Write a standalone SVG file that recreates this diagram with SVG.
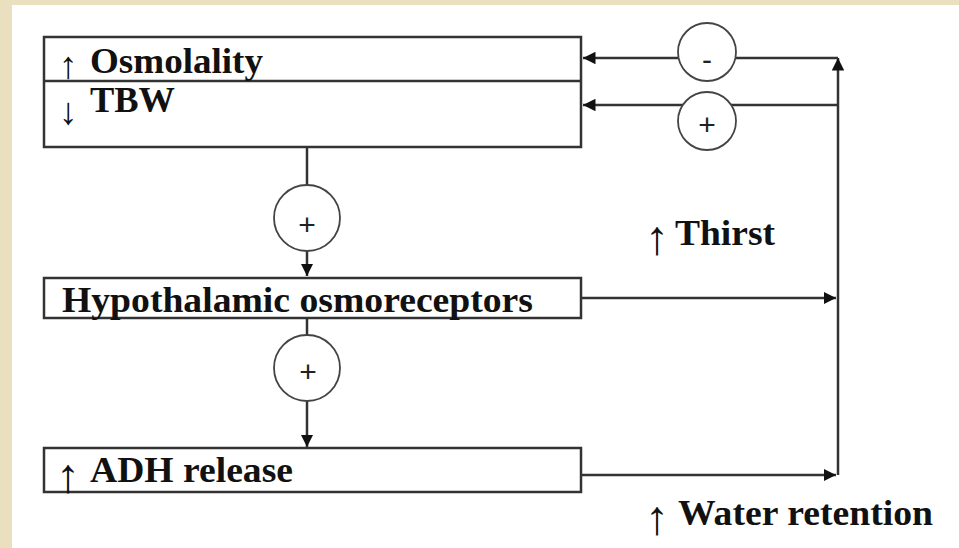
<svg xmlns="http://www.w3.org/2000/svg" width="959" height="548" viewBox="0 0 959 548">
<defs>
<style>
.box{fill:#fff;stroke:#333;stroke-width:2.5}
.ln{fill:none;stroke:#333;stroke-width:2.5}
.cir{fill:#fff;stroke:#444;stroke-width:1.8}
.t{font-family:"Liberation Serif","Times New Roman",serif;font-weight:bold;font-size:35px;fill:#111}
.ar{font-family:"Liberation Serif","Times New Roman",serif;font-size:38px;fill:#111;text-anchor:middle}
.arb{font-size:48px}
.sg{font-family:"Liberation Sans",Arial,sans-serif;font-size:30px;fill:#222;text-anchor:middle}
</style>
<marker id="ah" viewBox="0 0 10 10" refX="10" refY="5" markerWidth="5" markerHeight="5" orient="auto" markerUnits="strokeWidth">
<path d="M0,0 L10,5 L0,10 z" fill="#111"/>
</marker>
</defs>
<rect width="959" height="548" fill="#eadfbf"/>
<rect x="12" y="5" width="947" height="543" fill="#fff"/>
<g id="connectors">
<path class="ln" d="M838,475 L838,58" marker-end="url(#ah)"/>
<path class="ln" d="M838,58 L583,58" marker-end="url(#ah)"/>
<path class="ln" d="M838,105 L583,105" marker-end="url(#ah)"/>
<path class="ln" d="M581,298 L836,298" marker-end="url(#ah)"/>
<path class="ln" d="M581,475 L836,475" marker-end="url(#ah)"/>
<path class="ln" d="M307,147 L307,276" marker-end="url(#ah)"/>
<path class="ln" d="M307,318 L307,447" marker-end="url(#ah)"/>
</g>
<g id="node-osmolality">
<rect class="box" x="44" y="37" width="537" height="110"/>
<line class="ln" x1="44" y1="81" x2="581" y2="81"/>
<text class="ar" x="68" y="78">↑</text>
<text class="t" x="90" y="73" textLength="173" lengthAdjust="spacingAndGlyphs">Osmolality</text>
<text class="ar" x="68" y="124">↓</text>
<text class="t" x="90" y="112" textLength="85" lengthAdjust="spacingAndGlyphs">TBW</text>
</g>
<g id="node-hypothalamic">
<rect class="box" x="44" y="278" width="537" height="40"/>
<text class="t" x="62" y="312" textLength="471" lengthAdjust="spacingAndGlyphs">Hypothalamic osmoreceptors</text>
</g>
<g id="node-adh">
<rect class="box" x="44" y="448" width="537" height="44"/>
<text class="ar arb" x="68" y="492">↑</text>
<text class="t" x="90" y="482" textLength="203" lengthAdjust="spacingAndGlyphs">ADH release</text>
</g>
<g id="sign-minus">
<circle class="cir" cx="707" cy="52" r="29"/>
<text class="sg" x="707" y="70">-</text>
</g>
<g id="sign-plus-top">
<circle class="cir" cx="707" cy="121" r="29"/>
<text class="sg" x="707" y="135">+</text>
</g>
<g id="sign-plus-1">
<circle class="cir" cx="307" cy="218" r="33"/>
<text class="sg" x="307" y="235">+</text>
</g>
<g id="sign-plus-2">
<circle class="cir" cx="307" cy="368" r="33"/>
<text class="sg" x="308" y="382">+</text>
</g>
<g id="label-thirst">
<text class="ar arb" x="657" y="254">↑</text>
<text class="t" x="675" y="245" textLength="100" lengthAdjust="spacingAndGlyphs">Thirst</text>
</g>
<g id="label-water">
<text class="ar arb" x="657" y="534">↑</text>
<text class="t" x="678" y="525" textLength="255" lengthAdjust="spacingAndGlyphs">Water retention</text>
</g>
</svg>
